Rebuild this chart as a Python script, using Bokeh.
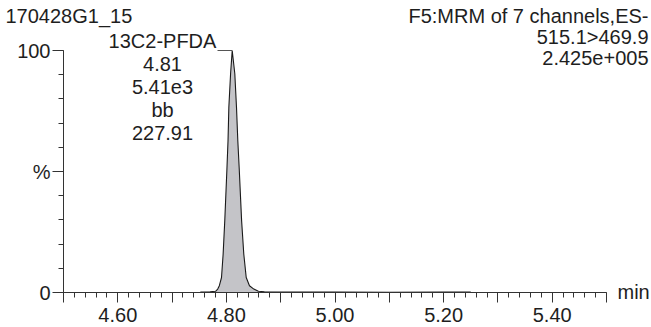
from bokeh.plotting import figure
from bokeh.models import (ColumnDataSource, Range1d, FixedTicker, Label,
                          CustomJSTickFormatter)
from bokeh.embed import file_html
from bokeh.resources import INLINE

# ---------------- data ----------------
rt = [4.752, 4.770, 4.780, 4.784, 4.787, 4.791, 4.794, 4.797, 4.801, 4.803,
      4.8045, 4.8077, 4.8107, 4.8155, 4.8186, 4.821, 4.8236, 4.828, 4.832,
      4.8365, 4.8425, 4.8505, 4.859, 4.870, 4.900, 5.000, 5.100, 5.200, 5.250]
intensity = [0.2, 0.3, 0.5, 1.4, 2.8, 6.2, 15.9, 29.7, 51.2, 62.8,
             76.5, 90.4, 100.0, 90.4, 76.5, 62.8, 51.2, 29.7, 15.9,
             6.2, 2.8, 1.4, 0.5, 0.3, 0.2, 0.2, 0.1, 0.2, 0.2]

x_major = [4.5, 4.6, 4.7, 4.8, 4.9, 5.0, 5.1, 5.2, 5.3, 5.4, 5.5]
x_minor = [round(4.5 + 0.02 * i, 2) for i in range(51)]
y_major = [0, 50, 100]
y_minor = [0, 10, 20, 30, 40, 50, 60, 70, 80, 90, 100]
y_labels = {0: "0", 50: "%", 100: "100"}

sample_name = "170428G1_15"
header_lines = ["F5:MRM of 7 channels,ES-", "515.1>469.9", "2.425e+005"]
peak_lines = ["13C2-PFDA", "4.81", "5.41e3", "bb", "227.91"]
peak_rt = 4.8107
peak_height = 100.0

FONT = "Liberation Sans"
FS = "20px"
TXT = "#1e1e1e"
AX = "#333333"

# ---------------- figure ----------------
W, H = 651, 327
X0_PX, Y0_PX = 63, 292          # where (4.50 min, 0 %) sits on the canvas
PX_PER_MIN = 543.0
PX_PER_PCT = 2.42
x_start = 4.5 - X0_PX / PX_PER_MIN
y_start = -(H - Y0_PX) / PX_PER_PCT
p = figure(width=W, height=H, output_backend="svg", toolbar_location=None,
           min_border_left=0, min_border_right=0,
           min_border_top=0, min_border_bottom=0,
           x_range=Range1d(x_start, x_start + W / PX_PER_MIN),
           y_range=Range1d(y_start, y_start + H / PX_PER_PCT))
p.outline_line_color = None
p.grid.visible = False
p.background_fill_color = "white"
p.border_fill_color = "white"

src = ColumnDataSource(dict(rt=rt, inten=intensity))
p.varea(x="rt", y1=0, y2="inten", source=src, fill_color="#c4c4c8")
p.line(x="rt", y="inten", source=src, line_color="#1a1a1a", line_width=1.1)

# ---------------- axes ----------------
xa = p.xaxis[0]
xa.ticker = FixedTicker(ticks=x_major, minor_ticks=x_minor)
xa.formatter = CustomJSTickFormatter(
    code="return (Math.round(tick*100) % 20 == 0) ? tick.toFixed(2) : '';")
xa.bounds = (4.5, 5.5)
xa.fixed_location = 0
ya = p.yaxis[0]
ya.ticker = FixedTicker(ticks=y_major, minor_ticks=y_minor)
ya.major_label_overrides = y_labels
ya.bounds = (0, 100)
ya.fixed_location = 4.5
for ax in (xa, ya):
    ax.axis_line_color = AX
    ax.axis_line_width = 1
    ax.major_tick_line_color = AX
    ax.minor_tick_line_color = AX
    ax.major_tick_in = 0
    ax.minor_tick_in = 0
    ax.major_tick_out = 10
    ax.minor_tick_out = 5
    ax.major_label_text_font = FONT
    ax.major_label_text_font_size = FS
    ax.major_label_text_color = TXT
xa.major_label_standoff = 5
ya.major_label_standoff = 2
ya.major_tick_out = 11


def px_x(px):
    return 4.5 + (px - X0_PX) / PX_PER_MIN


def px_y(py):
    return (Y0_PX - py) / PX_PER_PCT


def lab(x, y, text, align):
    p.add_layout(Label(x=x, y=y, text=text, text_font=FONT,
                       text_font_size=FS, text_color=TXT,
                       text_align=align, text_baseline="middle"))


lab(px_x(5), px_y(15.5), sample_name, "left")
for i, t in enumerate(header_lines):
    lab(px_x(648), px_y(15.5 + 21 * i), t, "right")
for i, t in enumerate(peak_lines):
    lab(px_x(162), px_y(40 + 23 * i), t, "center")
lab(px_x(617), px_y(291), "min", "left")

# leader from peak label to apex
p.line(x=[px_x(217), peak_rt], y=[peak_height, peak_height],
       line_color="#555555", line_width=1)

open("out.html", "w").write(file_html(p, INLINE))
